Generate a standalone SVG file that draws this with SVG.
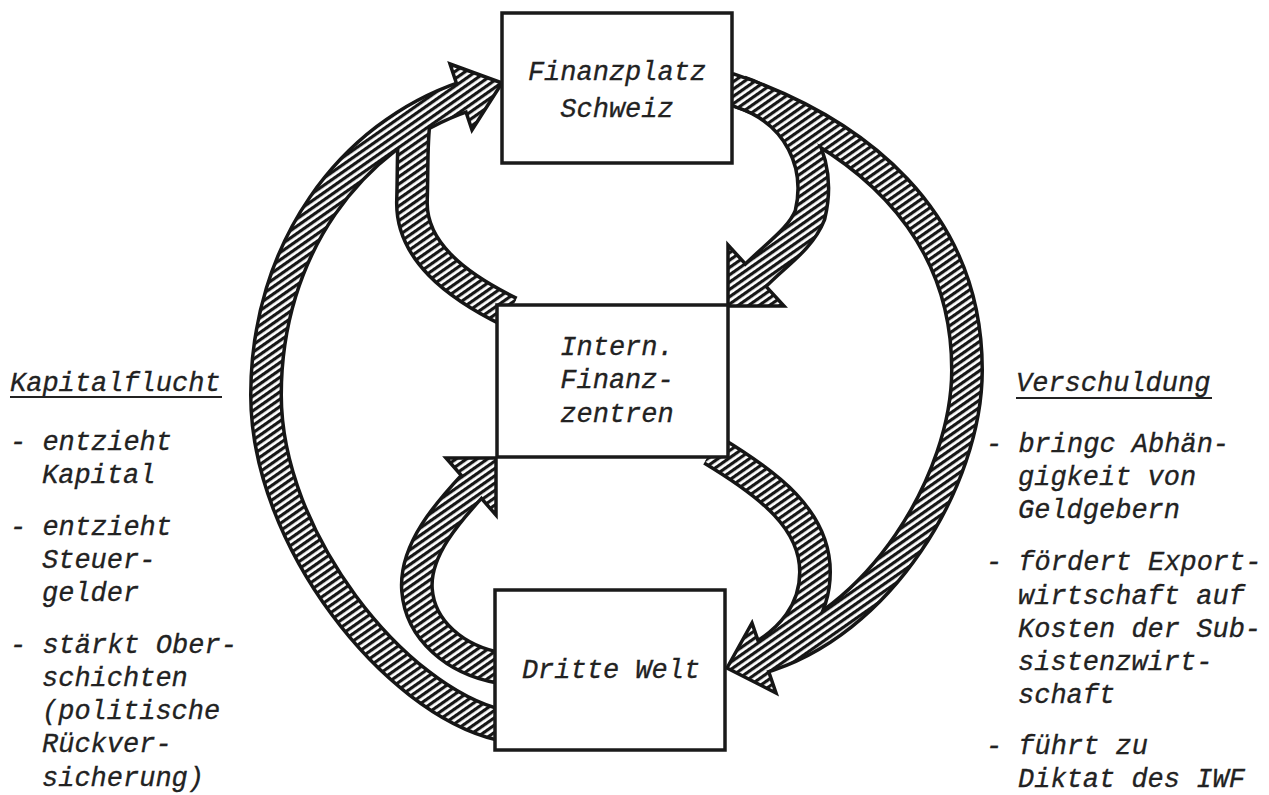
<svg xmlns="http://www.w3.org/2000/svg" width="1269" height="795" viewBox="0 0 1269 795">
<defs>
<pattern id="hatch" width="6" height="6" patternUnits="userSpaceOnUse" patternTransform="rotate(-35)">
<rect width="6" height="6" fill="#ffffff"/>
<rect width="6" height="3.2" fill="#161616"/>
</pattern>
<style>
.out{fill:none;stroke:#161616;stroke-width:34;stroke-linecap:butt;stroke-linejoin:round}
.hat{fill:none;stroke:url(#hatch);stroke-width:27;stroke-linecap:butt;stroke-linejoin:round}
.head{fill:url(#hatch);stroke:#161616;stroke-width:3.5;stroke-linejoin:miter}
.box{fill:#ffffff;stroke:#1a1a1a;stroke-width:3.5}
.t{font-family:"Liberation Mono","Courier New",monospace;font-style:italic;font-size:27px;fill:#222222;stroke:#222222;stroke-width:0.3}
.c{text-anchor:middle}
.ul{stroke:#222222;stroke-width:2}
</style>
</defs>
<rect width="1269" height="795" fill="#ffffff"/>

<g id="connectors">
  <g id="connector-outlines">
    <path id="o-kapitalflucht" class="out" d="M500,725 C395,700 266,540 266,395 C266,250 350,135 466,96"/>
    <path id="o-intern-finanzplatz" class="out" d="M510,312 C455,285 410,250 412,200 C413,165 412,140 415,120"/>
    <path id="o-verschuldung" class="out" d="M728,88 C858,132 967,220 967,370 C967,480 880,625 758,659"/>
    <path id="o-finanzplatz-intern" class="out" d="M740,92 C800,112 822,165 810,215 C800,240 775,255 752,279"/>
    <path id="o-dritte-intern" class="out" d="M500,668 C455,660 420,630 417,590 C414,550 448,512 474,484"/>
    <path id="o-intern-dritte" class="out" d="M712,450 C770,485 815,520 815,572 C815,612 790,640 760,657"/>
  </g>
  <g id="arrowheads">
    <polygon class="head" points="502,83 450,64 472,130"/>
    <polygon class="head" points="496,458 446,458 496,515"/>
    <polygon class="head" points="728,306 728,245 784,306"/>
    <polygon class="head" points="727,668 752,623 776,693"/>
  </g>
  <g id="connector-fills">
    <path class="hat" d="M500,725 C395,700 266,540 266,395 C266,250 350,135 466,96"/>
    <path class="hat" d="M510,312 C455,285 410,250 412,200 C413,165 412,140 415,120"/>
    <path class="hat" d="M728,88 C858,132 967,220 967,370 C967,480 880,625 758,659"/>
    <path class="hat" d="M740,92 C800,112 822,165 810,215 C800,240 775,255 752,279"/>
    <path class="hat" d="M500,668 C455,660 420,630 417,590 C414,550 448,512 474,484"/>
    <path class="hat" d="M712,450 C770,485 815,520 815,572 C815,612 790,640 760,657"/>
  </g>
</g>

<g id="node-finanzplatz">
  <rect class="box" x="502" y="13" width="230" height="150"/>
  <text class="t c" x="617" y="80">Finanzplatz</text>
  <text class="t c" x="617" y="117">Schweiz</text>
</g>
<g id="node-intern">
  <rect class="box" x="497" y="305" width="231" height="152"/>
  <text class="t c" x="617" y="355">Intern.</text>
  <text class="t c" x="617" y="388">Finanz-</text>
  <text class="t c" x="617" y="422">zentren</text>
</g>
<g id="node-dritte">
  <rect class="box" x="495" y="590" width="230" height="160"/>
  <text class="t c" x="611" y="678">Dritte Welt</text>
</g>

<g id="label-kapitalflucht">
  <text class="t" x="10" y="391">Kapitalflucht</text>
  <line class="ul" x1="10" y1="397" x2="222" y2="397"/>
  <text class="t" x="10" y="450">- entzieht</text>
  <text class="t" x="42" y="483">Kapital</text>
  <text class="t" x="10" y="535">- entzieht</text>
  <text class="t" x="42" y="568">Steuer-</text>
  <text class="t" x="42" y="601">gelder</text>
  <text class="t" x="10" y="653">- stärkt Ober-</text>
  <text class="t" x="42" y="686">schichten</text>
  <text class="t" x="42" y="719">(politische</text>
  <text class="t" x="42" y="752">Rückver-</text>
  <text class="t" x="42" y="786">sicherung)</text>
</g>
<g id="label-verschuldung">
  <text class="t" x="1016" y="391">Verschuldung</text>
  <line class="ul" x1="1016" y1="398" x2="1212" y2="398"/>
  <text class="t" x="986" y="452">- bringc Abhän-</text>
  <text class="t" x="1018" y="485">gigkeit von</text>
  <text class="t" x="1018" y="518">Geldgebern</text>
  <text class="t" x="986" y="570">- fördert Export-</text>
  <text class="t" x="1018" y="604">wirtschaft auf</text>
  <text class="t" x="1018" y="637">Kosten der Sub-</text>
  <text class="t" x="1018" y="670">sistenzwirt-</text>
  <text class="t" x="1018" y="703">schaft</text>
  <text class="t" x="986" y="754">- führt zu</text>
  <text class="t" x="1018" y="787">Diktat des IWF</text>
</g>
</svg>
